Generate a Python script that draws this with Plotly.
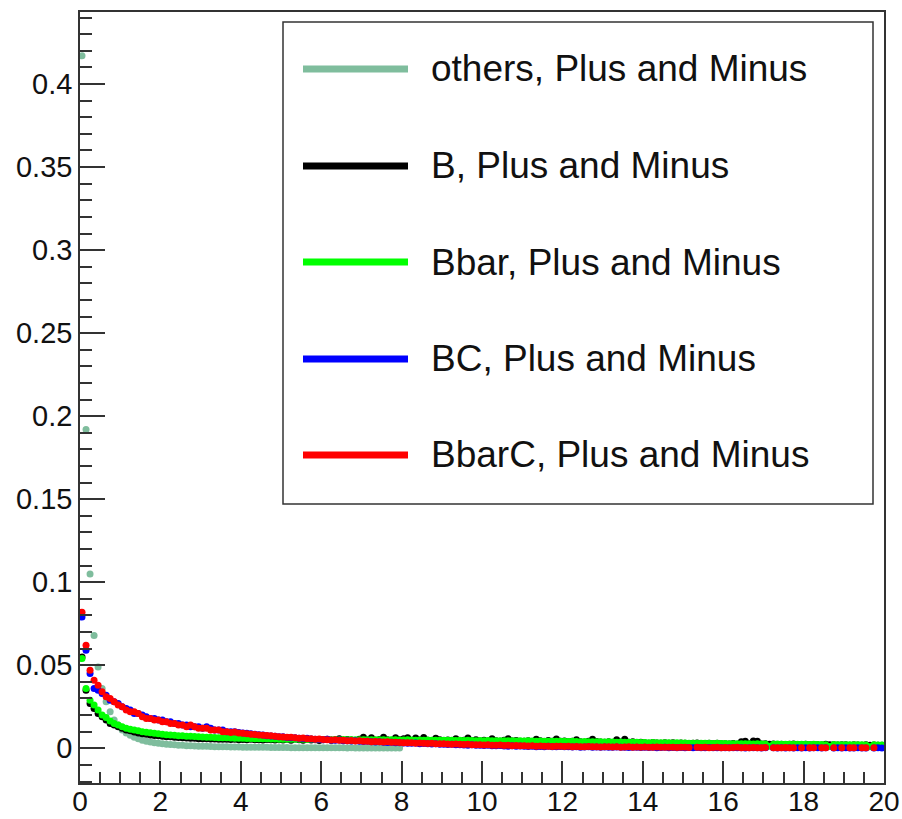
import numpy as np
import plotly.graph_objects as go

# ---------------- data (bin contents, 200 bins of width 0.1 from 0 to 20) ----------------
bin_width = 0.1
x_min = 0.0

others = [
    0.417, 0.192, 0.105, 0.068, 0.049, 0.036, 0.028, 0.022, 0.017, 0.014,
    0.011, 0.0092, 0.0078, 0.0066, 0.0057, 0.0049, 0.0043, 0.0038, 0.0034, 0.0031,
    0.0028, 0.0025, 0.0023, 0.0021, 0.0019, 0.0018, 0.0016, 0.0015, 0.0014, 0.0013,
    0.0012, 0.0012, 0.0011, 0.0010, 0.0010, 0.0009, 0.0009, 0.0008, 0.0008, 0.0008,
    0.0007, 0.0007, 0.0007, 0.0006, 0.0006, 0.0006, 0.0006, 0.0005, 0.0005, 0.0005,
    0.0005, 0.0005, 0.0004, 0.0004, 0.0004, 0.0004, 0.0004, 0.0004, 0.0003, 0.0003,
    0.0003, 0.0003, 0.0003, 0.0003, 0.0003, 0.0003, 0.0002, 0.0003, 0.0002, 0.0002,
    0.0002, 0.0002, 0.0002, 0.0002, 0.0002, 0.0002, 0.0002, 0.0002, 0.0002, 0.0002,
]

b_vals = [
    0.055, 0.035, 0.027, 0.024, 0.021, 0.019, 0.017, 0.015, 0.014, 0.013,
    0.012, 0.011, 0.0105, 0.0098, 0.0092, 0.0088, 0.0085, 0.0080, 0.0077, 0.0075,
    0.0072, 0.0070, 0.0069, 0.0066, 0.0065, 0.0063, 0.0062, 0.0061, 0.0060, 0.0058,
    0.0058, 0.0057, 0.0056, 0.0056, 0.0055, 0.0054, 0.0055, 0.0053, 0.0054, 0.0052,
    0.0053, 0.0052, 0.0054, 0.0051, 0.0052, 0.0050, 0.0053, 0.0051, 0.0050, 0.0052,
    0.0050, 0.0054, 0.0049, 0.0056, 0.0051, 0.0048, 0.0055, 0.0050, 0.0052, 0.0047,
    0.0051, 0.0055, 0.0049, 0.0052, 0.0058, 0.0048, 0.0053, 0.0050, 0.0047, 0.0054,
    0.0066, 0.0050, 0.0063, 0.0048, 0.0053, 0.0067, 0.0051, 0.0049, 0.0064, 0.0052,
    0.0058, 0.0064, 0.0047, 0.0062, 0.0050, 0.0065, 0.0049, 0.0046, 0.0061, 0.0052,
    0.0045, 0.0050, 0.0047, 0.0058, 0.0044, 0.0049, 0.0062, 0.0046, 0.0051, 0.0044,
    0.0048, 0.0043, 0.0057, 0.0045, 0.0042, 0.0049, 0.0058, 0.0044, 0.0047, 0.0041,
    0.0043, 0.0046, 0.0040, 0.0054, 0.0045, 0.0041, 0.0047, 0.0043, 0.0056, 0.0042,
    0.0044, 0.0039, 0.0042, 0.0052, 0.0040, 0.0037, 0.0043, 0.0055, 0.0041, 0.0038,
    0.0036, 0.0040, 0.0035, 0.0052, 0.0038, 0.0055, 0.0036, 0.0039, 0.0034, 0.0037,
    0.0034, 0.0031, 0.0035, 0.0032, 0.0030, 0.0034, 0.0031, 0.0033, 0.0029, 0.0032,
    0.0031, 0.0028, 0.0030, 0.0032, 0.0027, 0.0029, 0.0031, 0.0028, 0.0030, 0.0027,
    0.0028, 0.0026, 0.0029, 0.0025, 0.0040, 0.0043, 0.0028, 0.0044, 0.0042, 0.0026,
    0.0027, 0.0024, 0.0026, 0.0023, 0.0025, 0.0022, 0.0024, 0.0026, 0.0023, 0.0022,
    0.0024, 0.0021, 0.0023, 0.0022, 0.0020, 0.0024, 0.0021, 0.0022, 0.0020, 0.0021,
    0.0022, 0.0019, 0.0021, 0.0020, 0.0018, 0.0021, 0.0019, 0.0020, 0.0018, 0.0019,
]

bbar_vals = [
    0.054, 0.036, 0.029, 0.026, 0.023, 0.020, 0.0185, 0.0165, 0.015, 0.014,
    0.013, 0.012, 0.0115, 0.011, 0.0105, 0.010, 0.0097, 0.0093, 0.0090, 0.0087,
    0.0085, 0.0082, 0.0080, 0.0078, 0.0076, 0.0075, 0.0073, 0.0072, 0.0071, 0.0069,
    0.0068, 0.0067, 0.0066, 0.0065, 0.0064, 0.0063, 0.0063, 0.0062, 0.0061, 0.0060,
    0.0060, 0.0059, 0.0059, 0.0058, 0.0058, 0.0057, 0.0057, 0.0056, 0.0056, 0.0055,
    0.0055, 0.0055, 0.0054, 0.0055, 0.0054, 0.0054, 0.0053, 0.0054, 0.0053, 0.0053,
    0.0053, 0.0053, 0.0052, 0.0053, 0.0052, 0.0053, 0.0052, 0.0052, 0.0051, 0.0052,
    0.0052, 0.0051, 0.0052, 0.0051, 0.0051, 0.0052, 0.0050, 0.0051, 0.0051, 0.0050,
    0.0050, 0.0051, 0.0050, 0.0049, 0.0050, 0.0049, 0.0050, 0.0049, 0.0048, 0.0049,
    0.0048, 0.0049, 0.0048, 0.0047, 0.0048, 0.0047, 0.0048, 0.0047, 0.0046, 0.0047,
    0.0046, 0.0047, 0.0046, 0.0045, 0.0046, 0.0045, 0.0045, 0.0046, 0.0044, 0.0045,
    0.0044, 0.0045, 0.0044, 0.0043, 0.0044, 0.0043, 0.0043, 0.0042, 0.0043, 0.0042,
    0.0042, 0.0041, 0.0042, 0.0041, 0.0040, 0.0041, 0.0040, 0.0039, 0.0040, 0.0039,
    0.0038, 0.0039, 0.0038, 0.0037, 0.0038, 0.0037, 0.0036, 0.0037, 0.0036, 0.0035,
    0.0035, 0.0034, 0.0035, 0.0034, 0.0033, 0.0034, 0.0033, 0.0032, 0.0033, 0.0032,
    0.0032, 0.0031, 0.0031, 0.0030, 0.0031, 0.0030, 0.0030, 0.0029, 0.0030, 0.0029,
    0.0029, 0.0028, 0.0028, 0.0027, 0.0028, 0.0027, 0.0027, 0.0026, 0.0027, 0.0026,
    0.0026, 0.0012, 0.0025, 0.0026, 0.0025, 0.0025, 0.0024, 0.0025, 0.0024, 0.0024,
    0.0024, 0.0023, 0.0024, 0.0023, 0.0023, 0.0022, 0.0011, 0.0023, 0.0022, 0.0022,
    0.0022, 0.0021, 0.0022, 0.0021, 0.0021, 0.0020, 0.0010, 0.0021, 0.0020, 0.0020,
]

bc_vals = [
    0.079, 0.059, 0.045, 0.036, 0.035, 0.033, 0.032, 0.029, 0.028, 0.027,
    0.025, 0.024, 0.023, 0.021, 0.021, 0.020, 0.019, 0.018, 0.018, 0.017,
    0.017, 0.016, 0.016, 0.015, 0.015, 0.014, 0.014, 0.013, 0.013, 0.013,
    0.012, 0.013, 0.012, 0.011, 0.011, 0.011, 0.010, 0.010, 0.010, 0.0095,
    0.0092, 0.0090, 0.0088, 0.0084, 0.0082, 0.0080, 0.0076, 0.0074, 0.0073, 0.0070,
    0.0069, 0.0065, 0.0063, 0.0064, 0.0061, 0.0059, 0.0060, 0.0056, 0.0054, 0.0053,
    0.0052, 0.0054, 0.0049, 0.0048, 0.0050, 0.0046, 0.0045, 0.0044, 0.0046, 0.0042,
    0.0041, 0.0043, 0.0039, 0.0038, 0.0040, 0.0036, 0.0035, 0.0037, 0.0033, 0.0034,
    0.0032, 0.0031, 0.0030, 0.0032, 0.0028, 0.0029, 0.0027, 0.0026, 0.0028, 0.0024,
    0.0025, 0.0023, 0.0024, 0.0021, 0.0022, 0.0020, 0.0019, 0.0021, 0.0018, 0.0019,
    0.0017, 0.0018, 0.0016, 0.0015, 0.0017, 0.0014, 0.0013, 0.0015, 0.0012, 0.0014,
    0.0012, 0.0011, 0.0013, 0.0010, 0.0011, 0.0009, 0.0012, 0.0010, 0.0009, 0.0011,
    0.0009, 0.0010, 0.0008, 0.0009, 0.0007, 0.0008, 0.0009, 0.0006, 0.0008, 0.0007,
    0.0008, 0.0007, 0.0006, 0.0008, 0.0006, 0.0007, 0.0005, 0.0006, 0.0007, 0.0005,
    0.0006, 0.0005, 0.0006, 0.0004, 0.0005, 0.0006, 0.0004, 0.0005, 0.0004, 0.0005,
    0.0004, 0.0005, 0.0004, 0.0005, 0.0003, 0.0004, 0.0005, 0.0003, 0.0004, 0.0003,
    0.0004, 0.0003, 0.0004, 0.0003, 0.0004, 0.0002, 0.0003, 0.0004, 0.0003, 0.0002,
    0.0003, None, 0.0004, 0.0002, 0.0003, 0.0002, 0.0003, 0.0002, 0.0003, 0.0002,
    0.0003, 0.0002, 0.0003, 0.0003, 0.0002, 0.0003, None, 0.0002, 0.0003, 0.0002,
    0.0003, 0.0002, 0.0002, 0.0003, 0.0002, 0.0002, None, 0.0002, 0.0003, 0.0002,
]

bbarc_vals = [
    0.082, 0.062, 0.047, 0.041, 0.038, 0.034, 0.031, 0.030, 0.028, 0.026,
    0.025, 0.023, 0.022, 0.022, 0.021, 0.019, 0.018, 0.018, 0.017, 0.017,
    0.016, 0.016, 0.015, 0.015, 0.014, 0.014, 0.013, 0.014, 0.013, 0.012,
    0.012, 0.012, 0.011, 0.011, 0.011, 0.010, 0.010, 0.0095, 0.0098, 0.0092,
    0.0090, 0.0088, 0.0085, 0.0083, 0.0080, 0.0078, 0.0077, 0.0075, 0.0072, 0.0070,
    0.0068, 0.0066, 0.0067, 0.0063, 0.0060, 0.0062, 0.0058, 0.0057, 0.0055, 0.0056,
    0.0053, 0.0052, 0.0050, 0.0051, 0.0048, 0.0049, 0.0046, 0.0047, 0.0044, 0.0045,
    0.0043, 0.0042, 0.0040, 0.0041, 0.0039, 0.0038, 0.0039, 0.0036, 0.0037, 0.0035,
    0.0034, 0.0033, 0.0034, 0.0031, 0.0032, 0.0030, 0.0029, 0.0030, 0.0028, 0.0027,
    0.0028, 0.0026, 0.0025, 0.0026, 0.0024, 0.0023, 0.0025, 0.0022, 0.0021, 0.0022,
    0.0020, 0.0021, 0.0019, 0.0018, 0.0020, 0.0017, 0.0018, 0.0016, 0.0017, 0.0015,
    0.0016, 0.0014, 0.0015, 0.0013, 0.0014, 0.0012, 0.0013, 0.0011, 0.0012, 0.0013,
    0.0011, 0.0012, 0.0010, 0.0011, 0.0009, 0.0010, 0.0011, 0.0009, 0.0010, 0.0008,
    0.0009, 0.0010, 0.0008, 0.0009, 0.0007, 0.0008, 0.0009, 0.0007, 0.0008, 0.0007,
    0.0008, 0.0006, 0.0007, 0.0008, 0.0006, 0.0007, 0.0006, 0.0007, 0.0005, 0.0006,
    0.0007, 0.0005, None, 0.0006, 0.0005, 0.0006, 0.0004, 0.0005, 0.0006, 0.0004,
    0.0005, 0.0004, 0.0005, 0.0006, 0.0004, 0.0005, 0.0004, 0.0005, 0.0003, 0.0004,
    0.0005, None, 0.0004, 0.0003, 0.0004, 0.0005, 0.0003, 0.0004, None, 0.0004,
    None, 0.0003, 0.0004, None, 0.0003, 0.0004, None, 0.0003, None, 0.0004,
    None, 0.0003, 0.0004, None, 0.0003, 0.0004, None, 0.0003, None, None,
]

series_names = [
    "others, Plus and Minus",
    "B, Plus and Minus",
    "Bbar, Plus and Minus",
    "BC, Plus and Minus",
    "BbarC, Plus and Minus",
]
series_values = [others, b_vals, bbar_vals, bc_vals, bbarc_vals]
series_colors = ["#7fbd9d", "#000000", "#00ff00", "#0000ff", "#ff0000"]

x_ticks = list(range(0, 21, 2))

# ---------------- figure ----------------
W, H = 902, 819
L, R, T, B = 80, 18, 12, 36
PW, PH = W - L - R, H - T - B
FONT = "Liberation Sans, Arial, Helvetica, sans-serif"
AX = "#333333"


def px(xp):
    return (xp - L) / PW


def py(yp):
    return (H - B - yp) / PH


fig = go.Figure()
for name, vals, col in zip(series_names, series_values, series_colors):
    centers = x_min + bin_width * (np.arange(len(vals)) + 0.5)
    fig.add_trace(go.Scatter(
        x=centers, y=vals, mode="markers", name=name, showlegend=False,
        marker=dict(color=col, size=7, symbol="circle", line=dict(width=0)),
    ))

# manual ROOT-style legend
shapes = [dict(type="rect", xref="paper", yref="paper",
               x0=px(283), x1=px(873), y0=py(504), y1=py(22),
               line=dict(color=AX, width=1.5), fillcolor="white", layer="above")]
annotations = []
entry_y = [69, 166, 262, 359, 455]
for name, col, ey in zip(series_names, series_colors, entry_y):
    shapes.append(dict(type="line", xref="paper", yref="paper",
                       x0=px(303), x1=px(408), y0=py(ey), y1=py(ey),
                       line=dict(color=col, width=7), layer="above"))
    annotations.append(dict(xref="paper", yref="paper", x=px(429), y=py(ey),
                            text=name, showarrow=False, xanchor="left",
                            yanchor="middle", font=dict(size=37, color="#111111", family=FONT)))

fig.update_layout(
    width=W, height=H,
    margin=dict(l=L, r=R, t=T, b=B, pad=0, autoexpand=False),
    paper_bgcolor="white", plot_bgcolor="white",
    font=dict(family=FONT, size=29, color="#111111"),
    shapes=shapes, annotations=annotations,
    showlegend=False,
)
fig.update_xaxes(
    range=[0, 20], tickvals=x_ticks, ticktext=[str(v) for v in x_ticks],
    ticks="inside", ticklen=22, tickwidth=1.5, tickcolor=AX,
    minor=dict(dtick=0.5, ticks="inside", ticklen=11, tickwidth=1.5, tickcolor=AX, showgrid=False),
    showline=True, linecolor=AX, linewidth=1.5, mirror=True, automargin=False,
    showgrid=False, zeroline=False, tickfont=dict(size=28), ticklabelstandoff=-7,
)
fig.update_yaxes(
    range=[-0.0209, 0.4434], tick0=0, dtick=0.05,
    ticks="inside", ticklen=25, tickwidth=1.5, tickcolor=AX,
    minor=dict(dtick=0.01, tick0=0, ticks="inside", ticklen=12, tickwidth=1.5, tickcolor=AX, showgrid=False),
    showline=True, linecolor=AX, linewidth=1.5, mirror=True, automargin=False,
    showgrid=False, zeroline=False, tickfont=dict(size=29),
)

fig.write_html("out.html")
